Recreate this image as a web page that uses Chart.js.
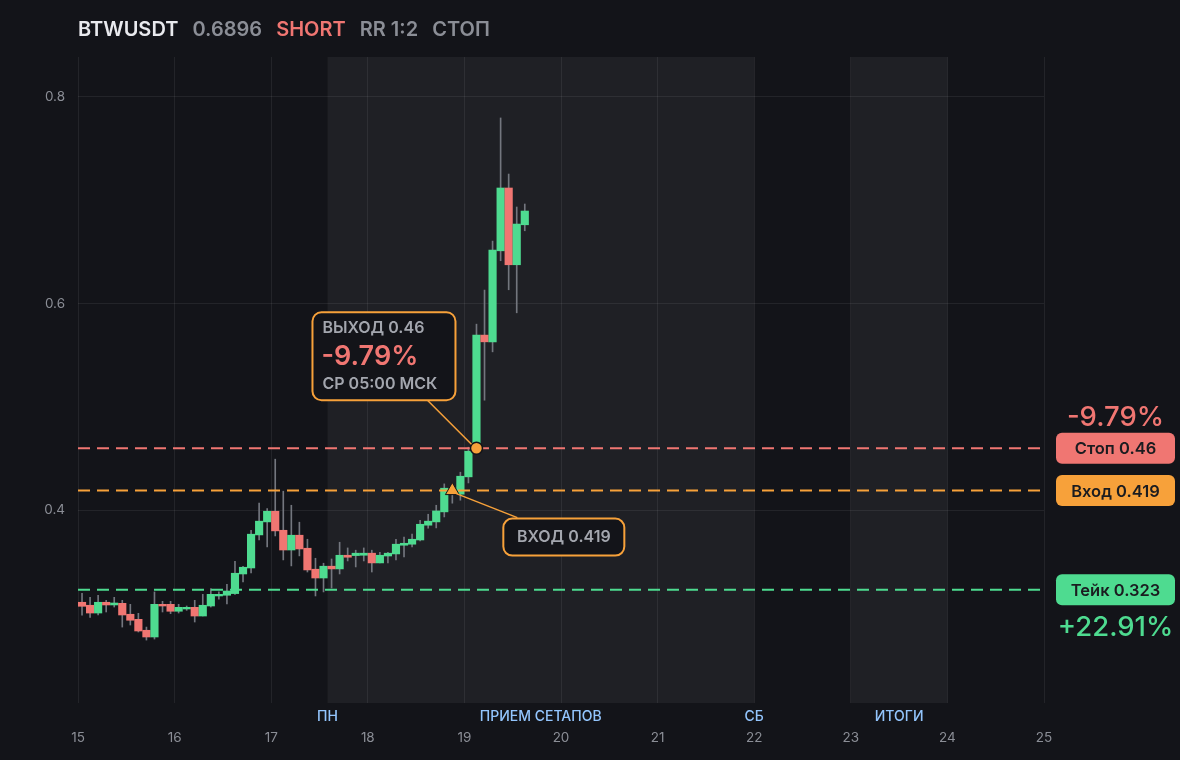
<!DOCTYPE html>
<html>
<head>
<meta charset="utf-8">
<script src="https://cdn.jsdelivr.net/npm/chart.js@4.4.1/dist/chart.umd.min.js"></script>
<style>
  html, body { margin: 0; padding: 0; background: #131419; }
  #wrap { position: relative; width: 1180px; height: 760px; overflow: hidden; }
  #header {
    position: absolute; left: 78px; top: 16px; z-index: 2;
    font-family: Inter, sans-serif; font-size: 20px; font-weight: 600;
    white-space: nowrap; line-height: 26px;
  }
  #header span { margin-right: 9px; }
  #chart { position: absolute; left: 0; top: 0; }
</style>
</head>
<body>
<div id="wrap">
  <div id="header">
    <span style="color:#e9eaee">BTWUSDT</span>
    <span style="color:#8b8e96">0.6896</span>
    <span style="color:#f07672">SHORT</span>
    <span style="color:#8b8e96">RR 1:2</span>
    <span style="color:#8b8e96">СТОП</span>
  </div>
  <canvas id="chart" width="1180" height="760"></canvas>
</div>
<script>
// === ДАННЫЕ: 2-часовые свечи с 15-го числа ===
const firstDay = 15;
const hoursPerCandle = 2;

const candleOpen = [
  0.3109, 0.3080, 0.3005, 0.3109, 0.3083, 0.3099, 0.2993, 0.2944, 0.2838, 0.2773,
  0.3089, 0.3089, 0.3022, 0.3044, 0.3060, 0.2976, 0.3073, 0.3170, 0.3177, 0.3193,
  0.3383, 0.3441, 0.3761, 0.3887, 0.3990, 0.3806, 0.3615, 0.3758, 0.3632, 0.3429,
  0.3344, 0.3458, 0.3432, 0.3564, 0.3561, 0.3564, 0.3584, 0.3490, 0.3557, 0.3577,
  0.3661, 0.3671, 0.3712, 0.3855, 0.3887, 0.3984, 0.4180, 0.4155, 0.4323, 0.4591,
  0.5695, 0.5630, 0.6511, 0.7119, 0.6376, 0.6763
];
const candleClose = [
  0.3070, 0.3005, 0.3109, 0.3083, 0.3102, 0.2986, 0.2935, 0.2831, 0.2773, 0.3089,
  0.3073, 0.3022, 0.3060, 0.3060, 0.2976, 0.3080, 0.3186, 0.3186, 0.3218, 0.3390,
  0.3448, 0.3768, 0.3894, 0.3990, 0.3800, 0.3615, 0.3758, 0.3625, 0.3422, 0.3344,
  0.3458, 0.3432, 0.3564, 0.3545, 0.3584, 0.3584, 0.3490, 0.3564, 0.3584, 0.3671,
  0.3680, 0.3719, 0.3864, 0.3894, 0.3993, 0.4213, 0.4205, 0.4329, 0.4571, 0.5695,
  0.5630, 0.6518, 0.7119, 0.6376, 0.6770, 0.6896
];
const candleHigh = [
  0.3196, 0.3157, 0.3177, 0.3128, 0.3157, 0.3128, 0.3089, 0.3002, 0.2869, 0.3209,
  0.3118, 0.3118, 0.3089, 0.3073, 0.3128, 0.3186, 0.3241, 0.3209, 0.3283, 0.3506,
  0.3458, 0.3806, 0.4068, 0.4016, 0.4494, 0.4184, 0.4048, 0.3884, 0.3719, 0.3535,
  0.3487, 0.3528, 0.3690, 0.3635, 0.3613, 0.3635, 0.3613, 0.3593, 0.3593, 0.3719,
  0.3739, 0.3768, 0.3903, 0.3961, 0.4048, 0.4255, 0.4232, 0.4368, 0.4610, 0.5801,
  0.6131, 0.6605, 0.7797, 0.7254, 0.6935, 0.6964
];
const candleLow = [
  0.2983, 0.2963, 0.2986, 0.3015, 0.3063, 0.2869, 0.2889, 0.2821, 0.2743, 0.2753,
  0.3015, 0.2999, 0.3005, 0.3031, 0.2918, 0.2976, 0.3063, 0.3138, 0.3092, 0.3186,
  0.3306, 0.3393, 0.3713, 0.3645, 0.3751, 0.3519, 0.3461, 0.3558, 0.3402, 0.3170,
  0.3209, 0.3247, 0.3383, 0.3509, 0.3451, 0.3509, 0.3402, 0.3490, 0.3490, 0.3519,
  0.3548, 0.3645, 0.3703, 0.3826, 0.3829, 0.3935, 0.4068, 0.4097, 0.4264, 0.4562,
  0.5065, 0.5533, 0.6415, 0.6134, 0.5911, 0.6705
];

const dayTicks = [15, 16, 17, 18, 19, 20, 21, 22, 23, 24, 25];
const priceTicks = [0.4, 0.6, 0.8];

const stopPrice = 0.46;
const entryPrice = 0.419;
const takePrice = 0.323;
const entryCandle = 46;   // индекс свечи входа
const exitCandle = 49;    // индекс свечи выхода
const stopPnl = '-9.79%';
const takePnl = '+22.91%';

// сессии (в днях)
const sessionBands = [[17.583, 22], [23, 24]];
const sessionLabels = ['ПН', 'ПРИЕМ СЕТАПОВ', 'СБ', 'ИТОГИ'];
const sessionLabelDays = [17.583, 19.79, 22, 23.5];

// === ЦВЕТА ===
const BG = '#131419';
const BAND = '#1f2025';
const GREEN = '#4edb90';
const RED = '#f07672';
const ORANGE = '#f7a13a';
const WICK = '#73767e';
const GREY = '#8b8e96';
const FONT = 'Inter, sans-serif';

// время центра свечи (дни)
const candleTime = i => firstDay + (i + 0.5) * hoursPerCandle / 24;

const bodies = candleOpen.map((o, i) => ({ x: candleTime(i), y: [o, candleClose[i]] }));
const wicks = candleOpen.map((o, i) => ({ x: candleTime(i), y: [candleLow[i], candleHigh[i]] }));
const bodyColors = candleOpen.map((o, i) => candleClose[i] >= o ? GREEN : RED);

function levelLine(price, color) {
    return {
        type: 'line',
        data: [{ x: dayTicks[0], y: price }, { x: dayTicks[dayTicks.length - 1], y: price }],
        borderColor: color,
        borderWidth: 2,
        borderDash: [12, 7],
        pointRadius: 0,
        order: 1
    };
}

function roundBox(ctx, x, y, w, h, r) {
    ctx.beginPath();
    ctx.roundRect(x, y, w, h, r);
}

// === ПЛАГИН: фоновые полосы сессий ===
const bandsPlugin = {
    id: 'bands',
    beforeDraw(chart) {
        const { ctx, chartArea: a, scales: { x } } = chart;
        ctx.save();
        ctx.fillStyle = BAND;
        sessionBands.forEach(([from, to]) => {
            const x0 = x.getPixelForValue(from);
            const x1 = x.getPixelForValue(to);
            ctx.fillRect(x0, a.top, x1 - x0, a.bottom - a.top);
        });
        ctx.restore();
    },
    afterDraw(chart) {
        const { ctx, chartArea: a, scales: { x } } = chart;
        ctx.save();
        ctx.fillStyle = '#93c5fd';
        ctx.font = `500 14px ${FONT}`;
        ctx.textAlign = 'center';
        ctx.textBaseline = 'middle';
        sessionLabels.forEach((t, i) => {
            ctx.fillText(t, x.getPixelForValue(sessionLabelDays[i]), a.bottom + 14);
        });
        ctx.restore();
    }
};

// === ПЛАГИН: ярлыки уровней справа и выноски ===
const labelsPlugin = {
    id: 'levelLabels',
    afterDatasetsDraw(chart) {
        const { ctx, chartArea: a, scales: { x, y } } = chart;
        ctx.save();

        // правые плашки
        const boxX = a.right + 12;
        const boxW = 119;
        const levels = [
            ['Стоп ' + stopPrice, stopPrice, RED],
            ['Вход ' + entryPrice, entryPrice, ORANGE],
            ['Тейк ' + takePrice, takePrice, GREEN]
        ];
        levels.forEach(([text, price, color]) => {
            const py = y.getPixelForValue(price);
            ctx.fillStyle = color;
            roundBox(ctx, boxX, py - 15.5, boxW, 31, 6);
            ctx.fill();
            ctx.fillStyle = '#1b1c20';
            ctx.font = `600 16.5px ${FONT}`;
            ctx.textAlign = 'center';
            ctx.textBaseline = 'middle';
            ctx.fillText(text, boxX + boxW / 2, py + 1);
        });
        ctx.font = `500 27.5px ${FONT}`;
        ctx.fillStyle = RED;
        ctx.fillText(stopPnl, boxX + boxW / 2, y.getPixelForValue(stopPrice) - 31);
        ctx.fillStyle = GREEN;
        ctx.fillText(takePnl, boxX + boxW / 2, y.getPixelForValue(takePrice) + 38);

        // выноска выхода
        const ex = x.getPixelForValue(candleTime(exitCandle));
        const ey = y.getPixelForValue(stopPrice);
        ctx.strokeStyle = ORANGE;
        ctx.lineWidth = 1.5;
        ctx.beginPath();
        ctx.moveTo(ex - 49, ey - 48);
        ctx.lineTo(ex - 5, ey - 4);
        ctx.stroke();
        ctx.fillStyle = BG;
        ctx.lineWidth = 2;
        roundBox(ctx, ex - 164, ey - 136, 143, 88, 9);
        ctx.fill();
        ctx.stroke();
        ctx.textAlign = 'left';
        ctx.fillStyle = '#a3a6ae';
        ctx.font = `600 16px ${FONT}`;
        ctx.fillText('ВЫХОД ' + stopPrice, ex - 154, ey - 120);
        ctx.fillText('СР 05:00 МСК', ex - 154, ey - 64);
        ctx.fillStyle = RED;
        ctx.font = `600 27px ${FONT}`;
        ctx.fillText(stopPnl, ex - 155, ey - 91);

        // выноска входа
        const nx = x.getPixelForValue(candleTime(entryCandle));
        const ny = y.getPixelForValue(entryPrice);
        ctx.lineWidth = 1.5;
        ctx.beginPath();
        ctx.moveTo(nx + 4, ny + 3);
        ctx.lineTo(nx + 65, ny + 27);
        ctx.stroke();
        ctx.fillStyle = BG;
        ctx.lineWidth = 2;
        roundBox(ctx, nx + 51, ny + 28, 121, 37, 9);
        ctx.fill();
        ctx.stroke();
        ctx.fillStyle = '#a3a6ae';
        ctx.font = `600 16px ${FONT}`;
        ctx.textAlign = 'center';
        ctx.fillText('ВХОД ' + entryPrice, nx + 111.5, ny + 47);

        ctx.restore();
    }
};

// === ГРАФИК ===
new Chart(document.getElementById('chart'), {
    type: 'bar',
    data: {
        datasets: [
            {
                data: wicks,
                backgroundColor: WICK,
                barThickness: 1,
                grouped: false,
                order: 3
            },
            {
                data: bodies,
                backgroundColor: bodyColors,
                barThickness: 7.5,
                minBarLength: 1,
                grouped: false,
                order: 2
            },
            levelLine(stopPrice, RED),
            levelLine(entryPrice, ORANGE),
            levelLine(takePrice, GREEN),
            {
                type: 'line',
                data: [{ x: candleTime(exitCandle), y: stopPrice }],
                showLine: false,
                pointStyle: 'circle',
                pointRadius: 6,
                pointBackgroundColor: ORANGE,
                pointBorderColor: BG,
                pointBorderWidth: 1.5,
                order: 0
            },
            {
                type: 'line',
                data: [{ x: candleTime(entryCandle), y: entryPrice }],
                showLine: false,
                pointStyle: 'triangle',
                pointRadius: 8,
                pointBackgroundColor: ORANGE,
                pointBorderColor: BG,
                pointBorderWidth: 1,
                order: 0
            }
        ]
    },
    options: {
        responsive: false,
        animation: false,
        devicePixelRatio: 1,
        layout: { padding: { top: 57, right: 136, left: 0, bottom: 0 } },
        plugins: { legend: { display: false }, tooltip: { enabled: false } },
        scales: {
            x: {
                type: 'linear',
                min: 15,
                max: 25,
                offset: false,
                afterBuildTicks: s => { s.ticks = dayTicks.map(v => ({ value: v })); },
                afterFit: s => { s.height = 57; },
                grid: { color: 'rgba(255,255,255,0.07)', drawTicks: false, offset: false },
                border: { display: false },
                ticks: { color: GREY, font: { family: FONT, size: 13.5 }, padding: 27, maxRotation: 0 }
            },
            y: {
                min: 0.2134,
                max: 0.8387,
                afterBuildTicks: s => { s.ticks = priceTicks.map(v => ({ value: v })); },
                afterFit: s => { s.width = 78; },
                grid: { color: 'rgba(255,255,255,0.07)', drawTicks: false },
                border: { display: false },
                ticks: { color: GREY, font: { family: FONT, size: 13.5 }, padding: 13, callback: v => v.toFixed(1) }
            }
        }
    },
    plugins: [bandsPlugin, labelsPlugin]
});
</script>
</body>
</html>
